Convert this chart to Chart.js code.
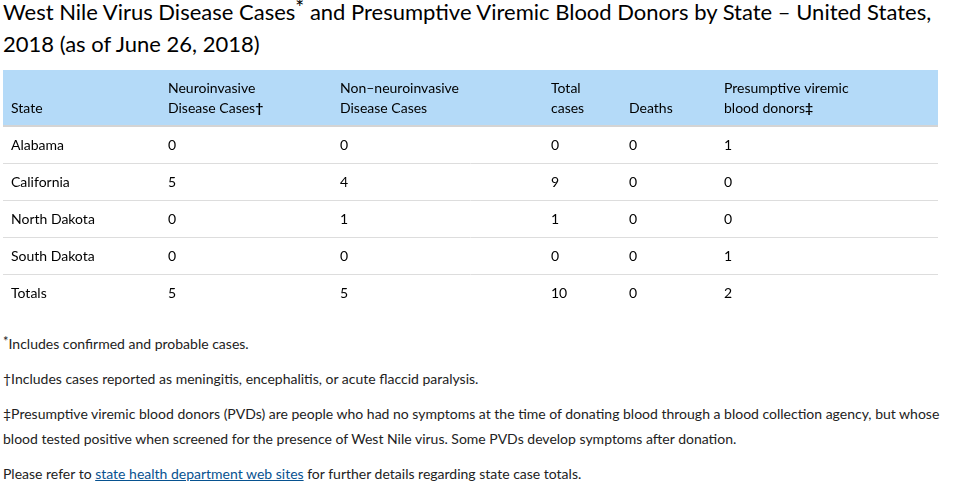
<!DOCTYPE html>
<html>
<head>
<meta charset="utf-8">
<script src="https://cdn.jsdelivr.net/npm/chart.js@4.4.0/dist/chart.umd.min.js"></script>
<style>
  body { margin: 0; background: #fff; font-family: Lato, "Open Sans", sans-serif; color: #000; }
  h1 { position: absolute; left: 3px; top: -4px; margin: 0; width: 940px; font-weight: 400; font-size: 22px; line-height: 32px; color: #000; }
  h1 sup { font-size: 21px; vertical-align: 5px; line-height: 0; }
  #wrap { position: absolute; left: 3px; top: 70px; width: 935px; height: 241px; }
  #notes { position: absolute; left: 3px; top: 331px; width: 940px; font-size: 14px; line-height: 25px; color: #222; }
  #notes p { margin: 0 0 10px 0; }
  #notes sup { font-size: 13px; vertical-align: 3px; line-height: 0; }
  #notes a { color: #075290; }
</style>
</head>
<body>
<h1>West Nile Virus Disease Cases<sup>*</sup> and Presumptive Viremic Blood Donors by State – United States, 2018 (as of June 26, 2018)</h1>
<div id="wrap"><canvas id="tbl"></canvas></div>
<div id="notes">
  <p><sup>*</sup>Includes confirmed and probable cases.</p>
  <p>†Includes cases reported as meningitis, encephalitis, or acute flaccid paralysis.</p>
  <p>‡Presumptive viremic blood donors (PVDs) are people who had no symptoms at the time of donating blood through a blood collection agency, but whose blood tested positive when screened for the presence of West Nile virus. Some PVDs develop symptoms after donation.</p>
  <p>Please refer to <a href="#">state health department web sites</a> for further details regarding state case totals.</p>
</div>
<script>
// table rows and columns
const states = ['Alabama', 'California', 'North Dakota', 'South Dakota', 'Totals'];
const headers = [
    ['State'],
    ['Neuroinvasive', 'Disease Cases†'],
    ['Non–neuroinvasive', 'Disease Cases'],
    ['Total', 'cases'],
    ['Deaths'],
    ['Presumptive viremic', 'blood donors‡']
];
const neuroinvasive = [0, 5, 0, 0, 5];
const nonNeuroinvasive = [0, 4, 1, 0, 5];
const totalCases = [0, 9, 1, 0, 10];
const deaths = [0, 0, 0, 0, 0];
const bloodDonors = [1, 0, 0, 1, 2];

const FAMILY = 'Lato, "Open Sans", sans-serif';
const FONT = '14px ' + FAMILY;

// header text; a trailing dagger mark is drawn bold like the original
function drawHeaderText(ctx, txt, x, y) {
    const last = txt.slice(-1);
    if (last === '†' || last === '‡') {
        const base = txt.slice(0, -1);
        ctx.font = FONT;
        ctx.fillText(base, x, y);
        const w = ctx.measureText(base).width;
        ctx.font = 'bold ' + FONT;
        ctx.fillText(last, x + w, y);
        ctx.font = FONT;
    } else {
        ctx.fillText(txt, x, y);
    }
}

// draws the header band and every cell's text at the library's row positions
const tablePlugin = {
    id: 'tableText',
    beforeDraw(chart, args, opts) {
        const ctx = chart.ctx;
        const area = chart.chartArea;
        ctx.save();
        ctx.fillStyle = opts.headerColor;
        ctx.fillRect(area.left, 0, area.right - area.left, area.top);
        ctx.font = FONT;
        ctx.fillStyle = '#000';
        ctx.textBaseline = 'middle';
        headers.forEach((lines, c) => {
            const x = area.left + opts.colX[c];
            lines.forEach((txt, k) => {
                const y = area.top - 18 - (lines.length - 1 - k) * 20;
                drawHeaderText(ctx, txt, x, y);
            });
        });
        ctx.restore();
    },
    afterDatasetsDraw(chart, args, opts) {
        const ctx = chart.ctx;
        const area = chart.chartArea;
        const yScale = chart.scales.y;
        ctx.save();
        ctx.font = FONT;
        ctx.fillStyle = '#000';
        ctx.textBaseline = 'middle';
        states.forEach((s, i) => {
            ctx.fillText(s, area.left + opts.colX[0], yScale.getPixelForValue(i) + 1);
        });
        chart.data.datasets.forEach((ds, d) => {
            const meta = chart.getDatasetMeta(d);
            meta.data.forEach((el, i) => {
                ctx.fillText(String(ds.data[i]), area.left + opts.colX[d + 1], el.y + 1);
            });
        });
        ctx.restore();
    }
};

const clear = 'rgba(0,0,0,0)';
new Chart(document.getElementById('tbl'), {
    type: 'bar',
    data: {
        labels: states,
        datasets: [
            { label: 'Neuroinvasive Disease Cases', data: neuroinvasive, backgroundColor: clear },
            { label: 'Non-neuroinvasive Disease Cases', data: nonNeuroinvasive, backgroundColor: clear },
            { label: 'Total cases', data: totalCases, backgroundColor: clear },
            { label: 'Deaths', data: deaths, backgroundColor: clear },
            { label: 'Presumptive viremic blood donors', data: bloodDonors, backgroundColor: clear }
        ]
    },
    plugins: [tablePlugin],
    options: {
        indexAxis: 'y',
        responsive: true,
        maintainAspectRatio: false,
        animation: false,
        grouped: false,
        layout: { padding: { top: 56, left: 0, right: 0, bottom: 0 } },
        scales: {
            x: { display: false, min: 0, max: 10 },
            y: {
                display: true,
                offset: true,
                border: { display: false },
                ticks: { display: false },
                grid: {
                    offset: true,
                    drawTicks: false,
                    color: c => c.index === undefined ? clear : (c.index === 0 ? '#d4d4d4' : '#dddddd'),
                    lineWidth: c => c.index === 0 ? 2 : 1
                }
            }
        },
        plugins: {
            legend: { display: false },
            tooltip: { enabled: false },
            tableText: {
                headerColor: '#b4daf8',
                colX: [8, 165, 337, 548, 626, 721]
            }
        }
    }
});
</script>
</body>
</html>
